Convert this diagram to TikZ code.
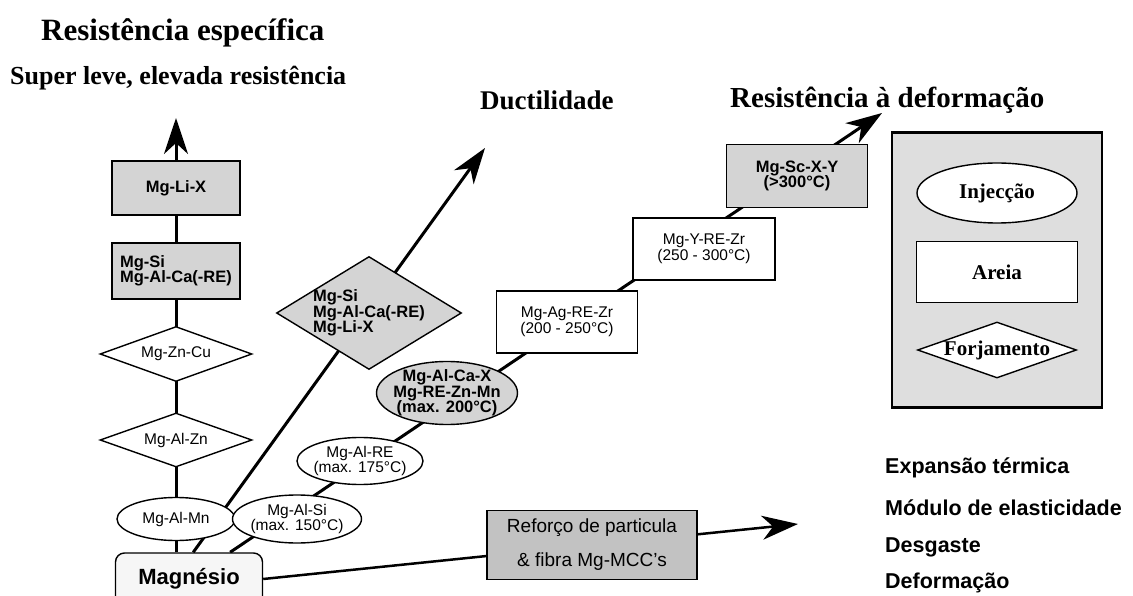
\documentclass[tikz,border=0pt]{standalone}
\usepackage{fontspec}
\setmainfont{Liberation Serif}
\setsansfont{Liberation Sans}
\usetikzlibrary{positioning,shapes.geometric,arrows.meta,backgrounds}
\definecolor{alloygray}{HTML}{D4D4D4}
\definecolor{panelgray}{HTML}{DEDEDE}
\definecolor{mmcgray}{HTML}{C2C2C2}
\definecolor{basegray}{HTML}{F6F6F6}
\newcommand{\alloy}{\sffamily\fontsize{15.5}{15.5}\selectfont}
\newcommand{\alloyb}{\sffamily\bfseries\fontsize{16.5}{15.5}\selectfont}
\newcommand{\head}[1]{\rmfamily\bfseries\fontsize{#1}{#1}\selectfont}
\tikzstyle{block} = [draw, rectangle, line width=1.4pt, inner sep=0pt, align=center, font=\alloy]
\tikzstyle{oval} = [draw, ellipse, line width=1.4pt, inner sep=-4pt, align=center, font=\alloy, fill=white]
\tikzstyle{rhomb} = [draw, diamond, line width=1.4pt, inner sep=-2pt, shape aspect=2.8, align=center, font=\alloy, fill=white]
\tikzstyle{hot} = [fill=alloygray, font=\alloyb]
\tikzstyle{title} = [anchor=west, inner sep=0pt]
\tikzstyle{prop} = [anchor=west, inner sep=0pt, font=\sffamily\bfseries\fontsize{21.5}{21.5}\selectfont]
\tikzstyle{to} = [-{Stealth[length=36pt,width=24pt,inset=11pt]}, line width=3pt]

\begin{document}
\begin{tikzpicture}[x=1pt, y=-1pt]
	\useasboundingbox (0,0) rectangle (1133,596);
	% titulos
	\node (t1) [title] at (41,33) {\head{31}Resistência específica};
	\node (t2) [title] at (10,78) {\head{26}Super leve, elevada resistência};
	\node (t3) [title] at (480,100) {\head{27}Ductilidade};
	\node (t4) [title] at (730,100) {\head{29}Resistência à deformação};
	% resistencia especifica
	\node (lix) [block, hot, minimum width=128pt, minimum height=54pt] at (176,188) {Mg-Li-X};
	\node (sica) [block, hot, minimum width=128pt, minimum height=56pt, align=left] at (176,271) {Mg-Si\\Mg-Al-Ca(-RE)};
	\node (zncu) [rhomb, minimum width=152pt, minimum height=55pt] at (176,354) {Mg-Zn-Cu};
	\node (alzn) [rhomb, minimum width=152pt, minimum height=54pt] at (176,440) {Mg-Al-Zn};
	\node (almn) [oval, minimum width=118pt, minimum height=43pt] at (176,519) {Mg-Al-Mn};
	\node (mag) [block, rounded corners=9pt, fill=basegray, minimum width=147pt, minimum height=52pt, font=\sffamily\bfseries\fontsize{22}{22}\selectfont] at (189,579) {Magnésio};
	% ductilidade
	\node (sili) [rhomb, hot, minimum width=185pt, minimum height=113pt, align=left, inner sep=-6pt, shape aspect=1.64] at (369,313) {Mg-Si\\Mg-Al-Ca(-RE)\\Mg-Li-X};
	% deformacao
	\node (alsi) [oval, minimum width=129pt, minimum height=48pt] at (297,519) {Mg-Al-Si\\(max. 150°C)};
	\node (alre) [oval, minimum width=126pt, minimum height=47pt] at (360,461) {Mg-Al-RE\\(max. 175°C)};
	\node (alca) [oval, hot, minimum width=141pt, minimum height=63pt] at (447,393) {Mg-Al-Ca-X\\Mg-RE-Zn-Mn\\(max. 200°C)};
	\node (agre) [block, fill=white, minimum width=141pt, minimum height=62pt] at (567,322) {Mg-Ag-RE-Zr\\(200 - 250°C)};
	\node (yre) [block, fill=white, minimum width=142pt, minimum height=62pt] at (704,249) {Mg-Y-RE-Zr\\(250 - 300°C)};
	\node (scxy) [block, hot, minimum width=141pt, minimum height=63pt] at (797,176) {Mg-Sc-X-Y\\(>300°C)};
	% compositos
	\node (mmc) [block, fill=mmcgray, minimum width=210pt, minimum height=69pt, font=\sffamily\fontsize{19}{34}\selectfont] at (592,545) {Reforço de particula\\\& fibra Mg-MCC’s};
	\node (p1) [prop] at (885,468) {Expansão térmica};
	\node (p2) [prop] at (885,508) {Módulo de elasticidade};
	\node (p3) [prop] at (885,547) {Desgaste};
	\node (p4) [prop] at (885,583) {Deformação};
	% processos
	\node (proc) [draw, line width=2.2pt, fill=panelgray, minimum width=210pt, minimum height=275pt] at (997,270) {};
	\node (inj) [draw, ellipse, line width=1.4pt, fill=white, minimum width=160pt, minimum height=60pt, font=\head{21}] at (997,193) {Injecção};
	\node (are) [block, fill=white, minimum width=161pt, minimum height=61pt, font=\head{21}] at (997,272) {Areia};
	\node (forj) [rhomb, minimum width=159pt, minimum height=56pt, inner sep=-4pt, font=\head{21}] at (997,350) {Forjamento};
	% setas
	\coordinate (uptip) at (176,118);
	\coordinate (ductip) at (485,148);
	\coordinate (creeptip) at (882,113);
	\coordinate (proptip) at (798,524);
	\begin{pgfonlayer}{background}
	\draw [to] (mag.north -| almn) -- (uptip);
	\draw [to] (mag.81) -- (ductip);
	\draw [to] (mag.33) -- (creeptip);
	\draw [to, line width=2.5pt] (mag.east) -- (proptip);
	\end{pgfonlayer}
\end{tikzpicture}
\end{document}
